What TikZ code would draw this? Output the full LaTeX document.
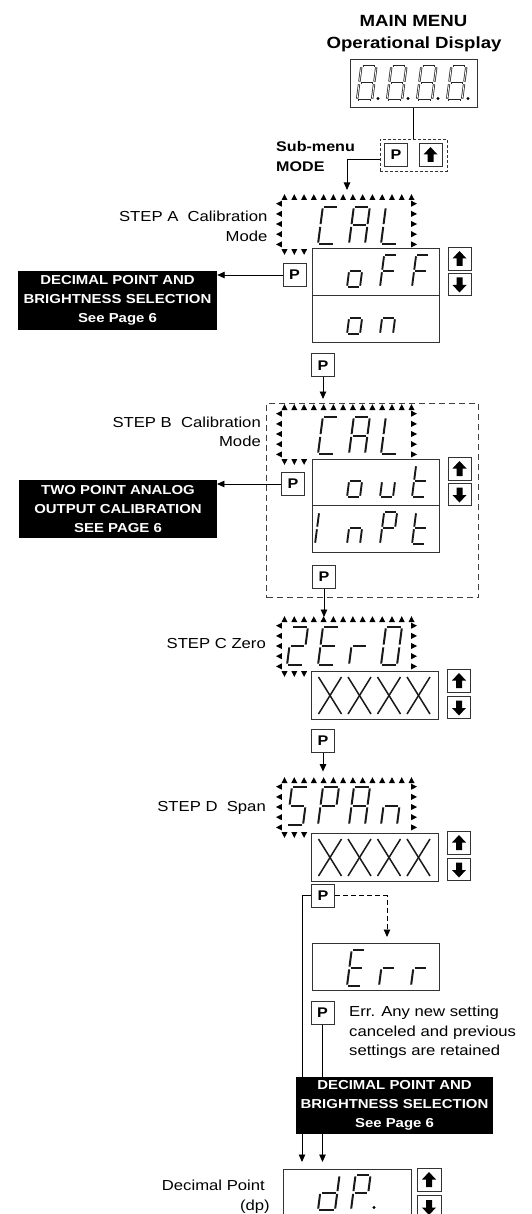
\documentclass[tikz,border=0pt]{standalone}
\usepackage{fontspec}
\setmainfont{Liberation Sans}[FakeStretch=1.15]
\usetikzlibrary{arrows.meta}

% seven-segment pieces
\newcommand\sgA{\draw[curseg] (0,-\dh) -- (\dw,-\dh);}
\newcommand\sgB{\draw[curseg] (\dw,-\dh) -- (\dw,-\dh/2);}
\newcommand\sgC{\draw[curseg] (\dw,-\dh/2) -- (\dw,0);}
\newcommand\sgD{\draw[curseg] (0,0) -- (\dw,0);}
\newcommand\sgE{\draw[curseg] (0,-\dh/2) -- (0,0);}
\newcommand\sgF{\draw[curseg] (0,-\dh) -- (0,-\dh/2);}
\newcommand\sgG{\draw[curseg] (0,-\dh/2) -- (\dw,-\dh/2);}
\newcommand\dgEight{\sgA\sgB\sgC\sgD\sgE\sgF\sgG}
\newcommand\dgC{\sgA\sgD\sgE\sgF}
\newcommand\dgA{\sgA\sgB\sgC\sgE\sgF\sgG}
\newcommand\dgL{\sgD\sgE\sgF}
\newcommand\dgo{\sgC\sgD\sgE\sgG}
\newcommand\dgF{\sgA\sgE\sgF\sgG}
\newcommand\dgn{\sgC\sgE\sgG}
\newcommand\dgu{\sgC\sgD\sgE}
\newcommand\dgt{\sgD\sgE\sgF\sgG}
\newcommand\dgI{\sgE\sgF}
\newcommand\dgP{\sgA\sgB\sgE\sgF\sgG}
\newcommand\dgTwo{\sgA\sgB\sgG\sgE\sgD}
\newcommand\dgE{\sgA\sgD\sgE\sgF\sgG}
\newcommand\dgr{\sgE\sgG}
\newcommand\dgZero{\sgA\sgB\sgC\sgD\sgE\sgF}
\newcommand\dgS{\sgA\sgF\sgG\sgC\sgD}
\newcommand\dgd{\sgB\sgC\sgD\sgE\sgG}

% #1 style, #2 x (bottom left), #3 y bottom, #4 width, #5 height, #6 segments
\newcommand\segdigit[6][segline]{%
  \begin{scope}[shift={(#2,#3)},xslant=0.13,curseg/.style={#1}]
    \def\dw{#4}\def\dh{#5}%
    #6
  \end{scope}}

\newcommand\xglyph[3]{%
  \draw[xseg] (#1,#2) -- ({#1+23},#3);
  \draw[xseg] ({#1+23},#2) -- (#1,#3);}

\newcommand\blinkframe[1]{%
  \foreach \i in {0,...,13}{\fill[black] ({284.5+9.77*\i},{194.2+#1}) -- ++(3,5.8) -- ++(-6,0) -- cycle;}
  \foreach \yy in {203.7,213.9,224,234.2,244.4}{%
    \fill[black] (276,{\yy+#1}) -- ++(5.8,-3) -- ++(0,6) -- cycle;
    \fill[black] (417,{\yy+#1}) -- ++(-5.8,-3) -- ++(0,6) -- cycle;}
  \foreach \xx in {284.5,294.3,304.1}{\fill[black] (\xx,{254.9+#1}) -- ++(3,-5.8) -- ++(-6,0) -- cycle;}
}

\newcommand\uparr[1]{\fill[black] (#1.center) ++(0,-8) -- ++(7,7.5) -- ++(-4,0) -- ++(0,7.5) -- ++(-6,0) -- ++(0,-7.5) -- ++(-4,0) -- cycle;}
\newcommand\dnarr[1]{\fill[black] (#1.center) ++(0,8) -- ++(7,-7.5) -- ++(-4,0) -- ++(0,-7.5) -- ++(-6,0) -- ++(0,7.5) -- ++(-4,0) -- cycle;}

\begin{document}
\begin{tikzpicture}[x=1pt,y=-1pt,
  segline/.style={draw=black!90,line width=2pt,shorten <=1.4pt,shorten >=1.4pt},
  vsegline/.style={draw=black!90,line width=1.9pt,shorten <=1.3pt,shorten >=1.3pt},
  hollowout/.style={draw=black!85,line width=2.3pt,shorten <=1.4pt,shorten >=1.4pt},
  hollowin/.style={draw=white,line width=0.8pt,shorten <=2.3pt,shorten >=2.3pt},
  xseg/.style={draw=black!90,line width=1.5pt},
  bx/.style={draw=black!80,line width=1pt,inner sep=0},
  pbtn/.style={bx,minimum width=23pt,minimum height=23pt,font=\bfseries\fontsize{14}{14}\selectfont},
  arbtn/.style={bx,minimum width=23pt,minimum height=22.5pt},
  vbox/.style={bx,minimum width=127pt},
  lbl/.style={inner sep=0,font=\fontsize{14.5}{19}\selectfont},
  ttl/.style={inner sep=0,font=\bfseries\fontsize{16.2}{20}\selectfont},
  sublbl/.style={inner sep=0,font=\bfseries\fontsize{14}{18}\selectfont},
  blk/.style={fill=black,text=white,inner sep=0,align=center,font=\bfseries\fontsize{13}{19}\selectfont},
  conn/.style={line width=0.9pt,-{Triangle[length=7.5pt,width=6.5pt]}},
  plainln/.style={line width=0.9pt}]
\useasboundingbox (0,0) rectangle (531,1214);
\clip (0,0) rectangle (531,1214);
\fill[white] (0,0) rectangle (531,1214);

% ---------- main menu ----------
\node[ttl,anchor=base] (t1) at (413.5,27) {MAIN MENU};
\node[ttl,anchor=base] (t2) at (414,48.5) {Operational Display};
\node[bx,minimum width=127pt,minimum height=48pt] (disp) at (413.5,84) {};
\foreach \xx in {357,387,417,447}{%
  \segdigit[hollowout]{\xx}{100}{15}{34}{\dgEight}
  \segdigit[hollowin]{\xx}{100}{15}{34}{\dgEight}
  \fill[black] ({\xx+21},98.5) circle[radius=1.6pt];}

\node[draw=black!80,dash pattern=on 3pt off 2pt,line width=0.8pt,minimum width=67pt,minimum height=32pt,inner sep=0] (sub) at (413.5,155) {};
\node[pbtn] (pS) at (396,155) {P};
\node[arbtn,minimum height=23pt] (uS) at (430.5,155) {};
\uparr{uS}
\draw[plainln] (disp.south) -- (sub.north);
\coordinate (aTop) at (347,190);
\draw[conn] ([yshift=-4pt]sub.west) -| (aTop);
\node[sublbl,anchor=base west] (sm1) at (276,152) {Sub-menu};
\node[sublbl,anchor=base west] (sm2) at (276,172) {MODE};

% ---------- step A ----------
\blinkframe{0}
\segdigit{318}{244}{16}{37}{\dgC}
\segdigit{349}{244}{16}{37}{\dgA}
\segdigit{381}{244}{16}{37}{\dgL}
\node[lbl,anchor=base east] (lA1) at (267.6,221.3) {STEP A~~Calibration};
\node[lbl,anchor=base east] (lA2) at (267.6,241.6) {Mode};
\node[vbox,minimum height=93pt] (vA) at (375.5,295.5) {};
\draw[bx] (vA.west) -- (vA.east);
\segdigit[vsegline]{347}{287}{13}{32}{\dgo}
\segdigit[vsegline]{380}{287}{13}{32}{\dgF}
\segdigit[vsegline]{412}{287}{13}{32}{\dgF}
\segdigit[vsegline]{347}{334}{13}{32}{\dgo}
\segdigit[vsegline]{380}{334}{13}{32}{\dgn}
\node[arbtn] (uA) at (459.5,259) {}; \uparr{uA}
\node[arbtn] (dA) at (459.5,284.5) {}; \dnarr{dA}
\node[pbtn] (pA) at (294.5,275) {P};
\node[blk,minimum width=199pt,minimum height=58.6pt] (bA) at (117.5,300.7) {DECIMAL POINT AND\\BRIGHTNESS SELECTION\\See Page 6};
\draw[conn] (pA.west) -- (bA.east |- pA.west);
\node[pbtn] (pA2) at (323,365.4) {P};
\coordinate (bTop) at (323,399);
\draw[conn] (pA2.south) -- (bTop);

% ---------- step B ----------
\node[draw=black!75,dash pattern=on 6pt off 4pt,line width=0.9pt,minimum width=212pt,minimum height=194.5pt,inner sep=0] (gB) at (372.6,500.25) {};
\blinkframe{210}
\segdigit{318}{454}{16}{37}{\dgC}
\segdigit{349}{454}{16}{37}{\dgA}
\segdigit{381}{454}{16}{37}{\dgL}
\node[lbl,anchor=base east] (lB1) at (261,427) {STEP B~~Calibration};
\node[lbl,anchor=base east] (lB2) at (261,446.7) {Mode};
\node[vbox,minimum height=93pt] (vB) at (375.5,505.5) {};
\draw[bx] (vB.west) -- (vB.east);
\segdigit[vsegline]{347}{497}{13}{32}{\dgo}
\segdigit[vsegline]{380}{497}{13}{32}{\dgu}
\segdigit[vsegline]{412}{497}{13}{32}{\dgt}
\segdigit[vsegline]{315}{544}{13}{32}{\dgI}
\segdigit[vsegline]{347}{544}{13}{32}{\dgn}
\segdigit[vsegline]{380}{544}{13}{32}{\dgP}
\segdigit[vsegline]{412}{544}{13}{32}{\dgt}
\node[arbtn] (uB) at (459.5,469) {}; \uparr{uB}
\node[arbtn] (dB) at (459.5,494.5) {}; \dnarr{dB}
\node[pbtn] (pB) at (293,484) {P};
\node[blk,minimum width=197.5pt,minimum height=58.6pt] (bB) at (118,508.9) {TWO POINT ANALOG\\OUTPUT CALIBRATION\\SEE PAGE 6};
\draw[conn] (pB.west) -- (bB.east |- pB.west);
\node[pbtn] (pB2) at (324,576.5) {P};
\coordinate (cTop) at (324,617);
\draw[conn] (pB2.south) -- (cTop);

% ---------- step C ----------
\blinkframe{422}
\segdigit{287}{665}{16}{38}{\dgTwo}
\segdigit{318}{665}{16}{38}{\dgE}
\segdigit{349}{665}{16}{38}{\dgr}
\segdigit{381}{665}{16}{38}{\dgZero}
\node[lbl,anchor=base east] (lC) at (266,648.6) {STEP C Zero};
\node[vbox,minimum height=48pt] (vC) at (375,695) {};
\foreach \xx in {318.5,348,377.5,407}{\xglyph{\xx}{677}{714}}
\node[arbtn] (uC) at (459,681) {}; \uparr{uC}
\node[arbtn] (dC) at (459,707.5) {}; \dnarr{dC}
\node[pbtn] (pC) at (323,740.5) {P};
\coordinate (dTop) at (323,771.6);
\draw[conn] (pC.south) -- (dTop);

% ---------- step D ----------
\blinkframe{583}
\segdigit{287}{825}{16}{38}{\dgS}
\segdigit{318}{825}{16}{38}{\dgP}
\segdigit{349}{825}{16}{38}{\dgA}
\segdigit{381}{825}{16}{38}{\dgn}
\node[lbl,anchor=base east] (lD) at (266,811) {STEP D~~Span};
\node[vbox,minimum height=48pt] (vD) at (375,857) {};
\foreach \xx in {318.5,348,377.5,407}{\xglyph{\xx}{839}{876}}
\node[arbtn] (uD) at (459,843) {}; \uparr{uD}
\node[arbtn] (dD) at (459,869.5) {}; \dnarr{dD}

% ---------- exit ----------
\node[pbtn] (pD) at (323,895.5) {P};
\coordinate (dp1) at (302,1162);
\coordinate (errTop) at (387,937);
\draw[conn] (pD.west) -| (dp1);
\draw[conn,dash pattern=on 5pt off 3pt] (pD.east) -| (errTop);
\node[vbox,minimum height=47pt] (vE) at (375.5,966.5) {};
\segdigit{347}{986}{14}{36}{\dgE}
\segdigit{379}{986}{14}{36}{\dgr}
\segdigit{411}{986}{14}{36}{\dgr}
\node[pbtn] (pE) at (322.5,1012.5) {P};
\coordinate (dp2) at (322.5,1162);
\draw[conn] (pE.south) -- (dp2);
\node[lbl,anchor=base west] (e1) at (349,1016.5) {Err. Any new setting};
\node[lbl,anchor=base west] (e2) at (349,1036.5) {canceled and previous};
\node[lbl,anchor=base west] (e3) at (349,1055.5) {settings are retained};
\node[blk,minimum width=197pt,minimum height=57pt] (b3) at (394.5,1105.5) {DECIMAL POINT AND\\BRIGHTNESS SELECTION\\See Page 6};

% ---------- decimal point ----------
\node[bx,minimum width=128pt,minimum height=48pt] (vP) at (347,1193) {};
\segdigit{318}{1210}{17}{35}{\dgd}
\segdigit{351}{1210}{15}{35}{\dgP}
\fill[black] (374,1207.5) circle[radius=1.7pt];
\node[arbtn,minimum width=24pt] (uP) at (429,1180) {}; \uparr{uP}
\node[arbtn,minimum width=24pt] (dP) at (429,1207) {}; \dnarr{dP}
\node[lbl,anchor=base east] (lP1) at (265,1190.7) {Decimal Point};
\node[lbl,anchor=base east] (lP2) at (270,1210) {(dp)};
\end{tikzpicture}
\end{document}
